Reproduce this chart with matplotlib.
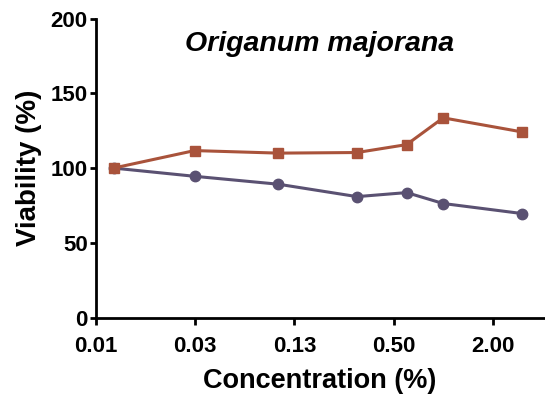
import numpy as np
import matplotlib
matplotlib.use("Agg")
import matplotlib.pyplot as plt
from matplotlib.ticker import FixedLocator, FixedFormatter

plt.rcParams['font.family'] = ['Liberation Sans', 'DejaVu Sans']

# Data
concentration = [0.01, 0.031, 0.1, 0.3, 0.6, 1.0, 3.0]
viability_sq = [100, 111.7, 110.0, 110.4, 115.7, 133.6, 124.2]
viability_ci = [100, 94.5, 89.2, 80.9, 83.6, 76.3, 69.6]
tick_vals = [2 ** -7, 2 ** -5, 2 ** -3, 2 ** -1, 2 ** 1]
tick_labels = ['0.01', '0.03', '0.13', '0.50', '2.00']

fig = plt.figure(figsize=(5.45, 3.95), dpi=100)
ax = fig.add_axes([0.176, 0.196, 0.822, 0.757])

ax.plot(concentration, viability_ci, color='#5a5172', lw=2.2, marker='o', ms=7.5, zorder=3)
ax.plot(concentration, viability_sq, color='#a9533b', lw=2.2, marker='s', ms=7, zorder=4)

ax.set_xscale('log', base=2)
ax.set_xlim(2 ** -7, 2 ** 2.03)
ax.set_ylim(0, 200)
ax.xaxis.set_major_locator(FixedLocator(tick_vals))
ax.xaxis.set_major_formatter(FixedFormatter(tick_labels))
ax.xaxis.set_minor_locator(FixedLocator([]))
ax.set_yticks([0, 50, 100, 150, 200])

for s in ['top', 'right']:
    ax.spines[s].set_visible(False)
for s in ['left', 'bottom']:
    ax.spines[s].set_linewidth(2)
ax.tick_params(axis='x', width=2, length=5, labelsize=16, pad=8)
ax.tick_params(axis='y', width=2, length=4.5, labelsize=16, pad=1.5)
for lab in ax.get_xticklabels() + ax.get_yticklabels():
    lab.set_fontweight('bold')

ax.set_xlabel('Concentration (%)', fontsize=19.5, fontweight='bold', labelpad=8)
ax.set_ylabel('Viability (%)', fontsize=20, fontweight='bold', labelpad=6)
ax.text(0.5, 0.915, 'Origanum majorana', transform=ax.transAxes, ha='center',
        va='center', fontsize=20.5, fontweight='bold', style='italic')

fig.savefig('out.png', dpi=100)
